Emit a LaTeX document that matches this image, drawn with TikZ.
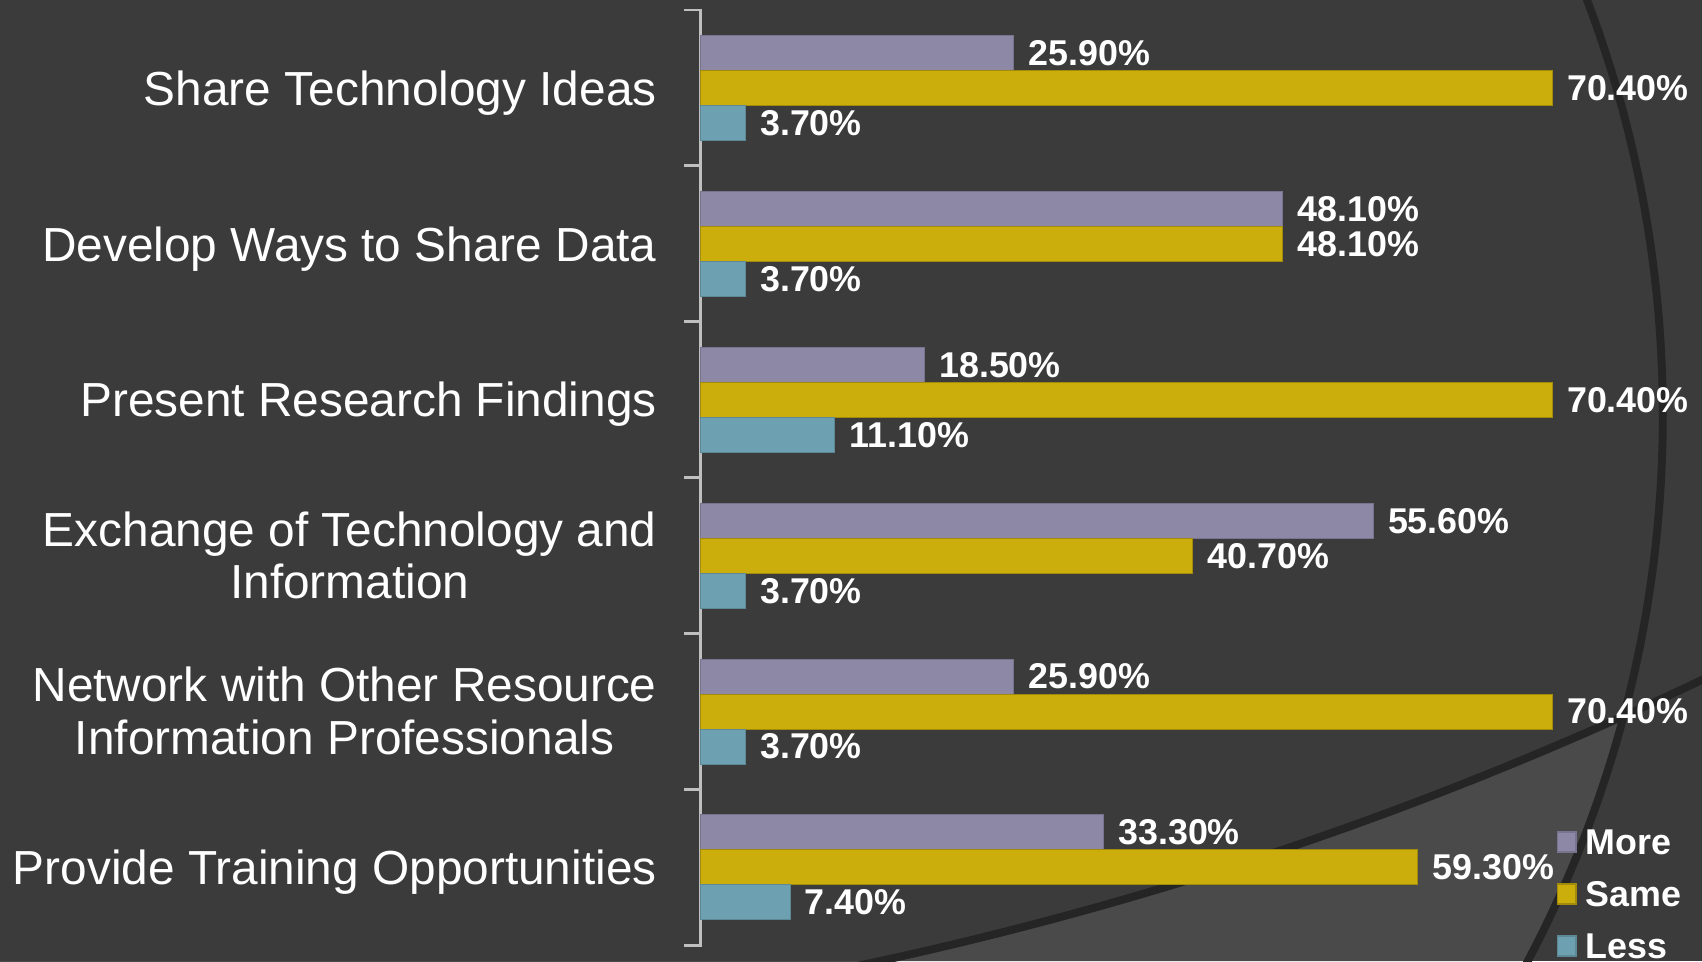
\documentclass[tikz,border=0pt]{standalone}
\usepackage{fontspec}
\setmainfont{Liberation Sans}
\usetikzlibrary{positioning}
\definecolor{bgdark}{HTML}{3B3B3B}
\definecolor{bglight}{HTML}{4A4A4A}
\definecolor{arcdark}{HTML}{252525}
\definecolor{moreclr}{HTML}{8C88A6}
\definecolor{sameclr}{HTML}{CBAE0C}
\definecolor{lessclr}{HTML}{6DA0B0}
\definecolor{axisclr}{HTML}{BFBFBF}

\begin{document}
\begin{tikzpicture}[x=0.02cm,y=-0.02cm,
      bar/.style={rectangle,inner sep=0pt,minimum height=0.7cm,anchor=west,line width=0.6pt},
      more/.style={bar,fill=moreclr,draw=moreclr!85!black},
      same/.style={bar,fill=sameclr,draw=sameclr!80!black},
      less/.style={bar,fill=lessclr,draw=lessclr!85!black},
      key/.style={rectangle,inner sep=0pt,minimum width=0.38cm,minimum height=0.4cm,line width=0.6pt},
      val/.style={text=white,inner sep=0pt,font=\fontsize{20.4}{24}\selectfont\bfseries},
      cat/.style={text=white,inner sep=0pt,anchor=east,align=center,font=\fontsize{27.2}{30}\selectfont},
      axisline/.style={draw=axisclr,line width=1.7pt},
      arcline/.style={draw=arcdark,line width=4.5pt},
      node distance=0.28cm,
      ]
      \clip (0,0) rectangle (1702,961);
      \fill[bgdark] (0,0) rectangle (1702,961);
      % lighter band of the slide background
      \begin{scope}
        \clip (493,415) circle[radius=23.4cm];
        \fill[bglight,even odd rule] (0,0) rectangle (1702,961) (66,-2759) circle[radius=76.16cm];
      \end{scope}
      \draw[arcline] (493,415) circle[radius=23.4cm];
      \draw[arcline] (66,-2759) circle[radius=76.16cm];

      % axis
      \draw[axisline] (684,10) -- (700,10) -- (700,945) -- (684,945)
        (684,165.8) -- (700,165.8) (684,321.7) -- (700,321.7) (684,477.5) -- (700,477.5)
        (684,633.3) -- (700,633.3) (684,789.2) -- (700,789.2);

      % categories
      \node[cat] (c1) at (657,92.9) {Share Technology Ideas};
      \node[cat] (c2) at (657,248.7) {Develop Ways to Share Data};
      \node[cat] (c3) at (657,404.5) {Present Research Findings};
      \node[cat] (c4) at (657,555.3) {Exchange of Technology and\\Information};
      \node[cat] (c5) at (657,711.1) {Network with Other Resource\\Information Professionals};
      \node[cat] (c6) at (657,871.9) {Provide Training Opportunities};

      % bars
      \node[more,minimum width=25.9*0.242cm] (m1) at (700,53.4) {};
      \node[same,minimum width=70.4*0.242cm] (s1) at (700,88.4) {};
      \node[less,minimum width=3.7*0.242cm] (l1) at (700,123.4) {};
      \node[more,minimum width=48.1*0.242cm] (m2) at (700,209.2) {};
      \node[same,minimum width=48.1*0.242cm] (s2) at (700,244.2) {};
      \node[less,minimum width=3.7*0.242cm] (l2) at (700,279.2) {};
      \node[more,minimum width=18.5*0.242cm] (m3) at (700,365) {};
      \node[same,minimum width=70.4*0.242cm] (s3) at (700,400) {};
      \node[less,minimum width=11.1*0.242cm] (l3) at (700,435) {};
      \node[more,minimum width=55.6*0.242cm] (m4) at (700,520.8) {};
      \node[same,minimum width=40.7*0.242cm] (s4) at (700,555.8) {};
      \node[less,minimum width=3.7*0.242cm] (l4) at (700,590.8) {};
      \node[more,minimum width=25.9*0.242cm] (m5) at (700,676.6) {};
      \node[same,minimum width=70.4*0.242cm] (s5) at (700,711.6) {};
      \node[less,minimum width=3.7*0.242cm] (l5) at (700,746.6) {};
      \node[more,minimum width=33.3*0.242cm] (m6) at (700,832.4) {};
      \node[same,minimum width=59.3*0.242cm] (s6) at (700,867.4) {};
      \node[less,minimum width=7.4*0.242cm] (l6) at (700,902.4) {};

      % values
      \node[val,right=of m1] (vm1) {25.90\%};
      \node[val,right=of s1] (vs1) {70.40\%};
      \node[val,right=of l1] (vl1) {3.70\%};
      \node[val,right=of m2] (vm2) {48.10\%};
      \node[val,right=of s2] (vs2) {48.10\%};
      \node[val,right=of l2] (vl2) {3.70\%};
      \node[val,right=of m3] (vm3) {18.50\%};
      \node[val,right=of s3] (vs3) {70.40\%};
      \node[val,right=of l3] (vl3) {11.10\%};
      \node[val,right=of m4] (vm4) {55.60\%};
      \node[val,right=of s4] (vs4) {40.70\%};
      \node[val,right=of l4] (vl4) {3.70\%};
      \node[val,right=of m5] (vm5) {25.90\%};
      \node[val,right=of s5] (vs5) {70.40\%};
      \node[val,right=of l5] (vl5) {3.70\%};
      \node[val,right=of m6] (vm6) {33.30\%};
      \node[val,right=of s6] (vs6) {59.30\%};
      \node[val,right=of l6] (vl6) {7.40\%};

      % legend
      \node[key,fill=moreclr,draw=moreclr!85!black] (km) at (1566.5,842) {};
      \node[key,fill=sameclr,draw=sameclr!80!black] (ks) at (1566.5,894) {};
      \node[key,fill=lessclr,draw=lessclr!85!black] (kl) at (1566.5,946) {};
      \node[val,right=0.18cm of km] (tm) {More};
      \node[val,right=0.18cm of ks] (ts) {Same};
      \node[val,right=0.18cm of kl] (tl) {Less};
    \end{tikzpicture}
\end{document}
